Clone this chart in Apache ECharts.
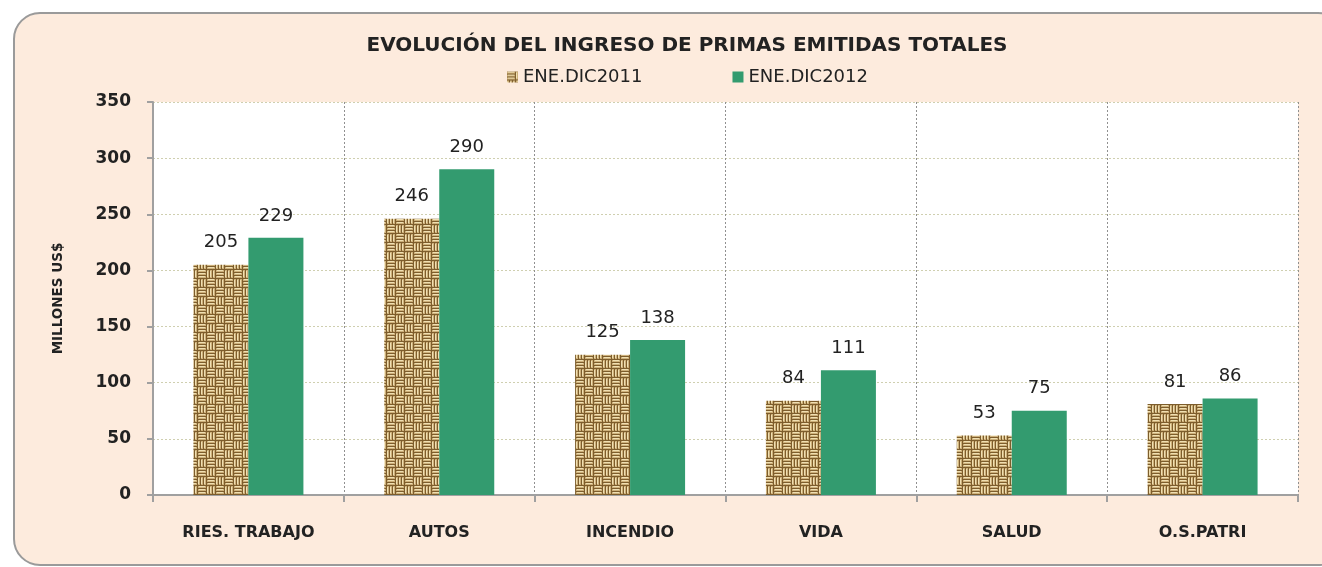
<!DOCTYPE html>
<html>
<head>
<meta charset="utf-8">
<script src="https://cdn.jsdelivr.net/npm/echarts@6/dist/echarts.min.js"></script>
<style>
html,body{margin:0;padding:0;background:#fff;}
#c{width:1322px;height:567px;}
</style>
</head>
<body>
<div id="c"></div>
<script>
const categories = ['RIES. TRABAJO', 'AUTOS', 'INCENDIO', 'VIDA', 'SALUD', 'O.S.PATRI'];
const seriesNames = ['ENE.DIC2011', 'ENE.DIC2012'];
const values2011 = [205, 246, 125, 84, 53, 81];
const values2012 = [229, 290, 138, 111, 75, 86];
const yTicks = [0, 50, 100, 150, 200, 250, 300, 350];

// burlap / woven texture tile
function makeWeave() {
  const c = document.createElement('canvas');
  const b = 9, s = b * 2;
  c.width = s; c.height = s;
  const g = c.getContext('2d');
  g.fillStyle = '#7d5d2c';
  g.fillRect(0, 0, s, s);
  for (let i = 0; i < 2; i++) {
    for (let j = 0; j < 2; j++) {
      const x0 = i * b, y0 = j * b;
      const horiz = (i + j) % 2 === 0;
      for (let k = 0; k < 3; k++) {
        const off = k * 3;
        if (horiz) {
          g.fillStyle = '#cdb07a'; g.fillRect(x0, y0 + off, b - 1, 2);
          g.fillStyle = '#efdfb2'; g.fillRect(x0 + 1, y0 + off, b - 3, 1);
        } else {
          g.fillStyle = '#cdb07a'; g.fillRect(x0 + off, y0, 2, b - 1);
          g.fillStyle = '#efdfb2'; g.fillRect(x0 + off, y0 + 1, 1, b - 3);
        }
      }
    }
  }
  return c;
}
const weave = makeWeave();

const chart = echarts.init(document.getElementById('c'));
const font = "'DejaVu Sans', sans-serif";
chart.setOption({
  backgroundColor: '#ffffff',
  animation: false,
  textStyle: { fontFamily: font },
  graphic: [{
    type: 'rect', z: -10,
    shape: { x: 14, y: 13, width: 1330, height: 552, r: 26 },
    style: { fill: '#fdebdd', stroke: '#9a9a9a', lineWidth: 2 }
  }],
  title: {
    text: 'EVOLUCIÓN DEL INGRESO DE PRIMAS EMITIDAS TOTALES',
    left: 682, textAlign: 'center', top: 31,
    textStyle: { fontFamily: font, fontSize: 20, fontWeight: 'bold', color: '#222' }
  },
  legend: {
    top: 63, left: 502,
    itemWidth: 11, itemHeight: 11, itemGap: 90,
    icon: 'rect',
    textStyle: { fontFamily: font, fontSize: 18, color: '#222' },
    data: seriesNames
  },
  grid: {
    left: 153, right: 24, top: 102, bottom: 72,
    show: true, backgroundColor: '#ffffff', borderWidth: 0
  },
  xAxis: {
    type: 'category', data: categories,
    axisLine: { lineStyle: { color: '#a0a0a0', width: 2 } },
    axisTick: { show: true, length: 7, interval: 0, lineStyle: { color: '#a0a0a0', width: 2 } },
    splitLine: { show: true, interval: 0, lineStyle: { color: '#909090', type: [2, 2], width: 1 } },
    axisLabel: { fontFamily: font, fontSize: 16, fontWeight: 'bold', color: '#222', margin: 30, interval: 0 }
  },
  yAxis: {
    type: 'value', min: 0, max: 350, interval: 50,
    name: 'MILLONES US$', nameLocation: 'middle', nameRotate: 90, nameGap: 88,
    nameTextStyle: { fontFamily: font, fontSize: 13.5, fontWeight: 'bold', color: '#222' },
    axisLine: { show: true, lineStyle: { color: '#a0a0a0', width: 2 } },
    axisTick: { show: true, length: 6, lineStyle: { color: '#a0a0a0', width: 2 } },
    splitLine: { show: true, lineStyle: { color: '#cfcfb0', type: [2, 2], width: 1 } },
    axisLabel: {
      fontFamily: font, fontSize: 17, fontWeight: 'bold', color: '#222', margin: 22,
      formatter: v => yTicks.includes(v) ? String(v) : ''
    }
  },
  series: [
    {
      name: seriesNames[0], type: 'bar', data: values2011,
      barWidth: 55, barGap: '0%',
      itemStyle: { color: { image: weave, repeat: 'repeat' } },
      label: { show: true, position: 'top', distance: 13, fontFamily: font, fontSize: 18, color: '#222' }
    },
    {
      name: seriesNames[1], type: 'bar', data: values2012,
      barWidth: 55, barGap: '0%',
      itemStyle: { color: '#339b6f' },
      label: { show: true, position: 'top', distance: 13, fontFamily: font, fontSize: 18, color: '#222' }
    }
  ]
});
</script>
</body>
</html>
